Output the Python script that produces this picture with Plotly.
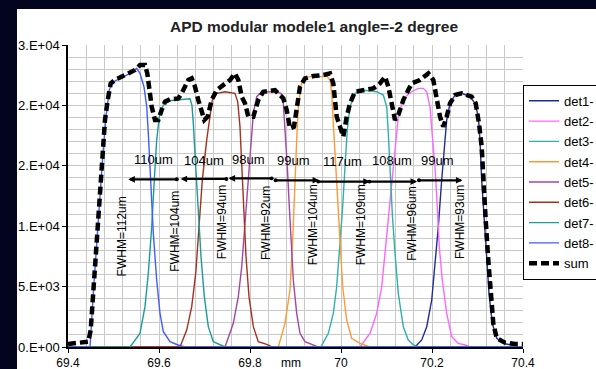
import plotly.graph_objects as go

# ---- detector responses (position in mm, counts) ----
det1_x = [69.400, 70.1626, 70.1774, 70.1884, 70.1994, 70.2066, 70.2139, 70.2213, 70.2271, 70.2323, 70.2396, 70.2506, 70.2653, 70.2835, 70.2945, 70.3018, 70.3055, 70.3092, 70.3150, 70.3202, 70.3253, 70.3325, 70.3422, 70.3567, 70.3752, 70.3890, 70.400]
det1_y = [0, 0, 580, 1680, 3890, 6650, 9960, 13820, 16580, 18790, 20170, 20860, 21000, 20720, 20170, 19070, 17130, 13820, 10510, 7200, 4440, 1960, 720, 300, 165, 0, 0]

det2_x = [69.400, 70.0418, 70.0637, 70.0785, 70.0895, 70.0967, 70.1040, 70.1114, 70.1187, 70.1259, 70.1369, 70.1554, 70.1699, 70.1809, 70.1884, 70.1956, 70.2015, 70.2066, 70.2116, 70.2160, 70.2226, 70.2323, 70.2433, 70.2578, 70.2725, 70.2835, 70.400]
det2_y = [0, 0, 1130, 2790, 4990, 7750, 11060, 13820, 16580, 19070, 20580, 21130, 21410, 21410, 21130, 19890, 17130, 14930, 11620, 8300, 5550, 2790, 860, 300, 165, 0, 0]

det3_x = [69.400, 69.9558, 69.9721, 69.9831, 69.9905, 69.9978, 70.0037, 70.0088, 70.0138, 70.0198, 70.0308, 70.0455, 70.0785, 70.0930, 70.1004, 70.1040, 70.1077, 70.1127, 70.1187, 70.1259, 70.1369, 70.1479, 70.1582, 70.1692, 70.400]
det3_y = [0, 0, 1130, 2790, 4990, 8300, 11620, 14930, 17960, 19890, 21000, 21270, 21130, 20860, 19890, 17690, 14380, 11060, 7750, 4440, 1680, 580, 200, 0, 0]

det4_x = [69.400, 69.8622, 69.8769, 69.8879, 69.8938, 69.8974, 69.9026, 69.9062, 69.9114, 69.9171, 69.9319, 69.9538, 69.9686, 69.9758, 69.9796, 69.9831, 69.9884, 69.9928, 69.9978, 70.0037, 70.0125, 70.0235, 70.0418, 70.0527, 70.0637, 70.400]
det4_y = [0, 0, 1960, 4720, 8860, 13000, 17130, 19890, 21550, 22240, 22380, 22380, 22430, 22100, 21000, 18510, 14930, 11620, 8300, 4990, 2230, 720, 300, 165, 0, 0]

det5_x = [69.400, 69.7451, 69.7633, 69.7743, 69.7818, 69.7890, 69.7963, 69.8022, 69.8073, 69.8147, 69.8257, 69.8549, 69.8681, 69.8732, 69.8769, 69.8820, 69.8864, 69.8916, 69.8952, 69.9026, 69.9099, 69.9209, 69.9391, 69.9495, 70.400]
det5_y = [0, 0, 1960, 4170, 6650, 10240, 13820, 17130, 19340, 20720, 21130, 21130, 21000, 20170, 18240, 14930, 11620, 8300, 5550, 2790, 1130, 440, 165, 0, 0]

det6_x = [69.400, 69.6462, 69.6609, 69.6719, 69.6807, 69.6879, 69.6952, 69.7048, 69.7121, 69.7171, 69.7268, 69.7451, 69.7670, 69.7730, 69.7780, 69.7818, 69.7868, 69.7912, 69.7978, 69.8073, 69.8182, 69.8367, 69.8484, 70.400]
det6_y = [0, 0, 1400, 3340, 6100, 9960, 13820, 17130, 19070, 20440, 21000, 21130, 21000, 20300, 18240, 14930, 11060, 7480, 4170, 1680, 440, 220, 0, 0]

det7_x = [69.400, 69.5363, 69.5582, 69.5692, 69.5765, 69.5840, 69.5897, 69.5949, 69.6007, 69.6095, 69.6204, 69.6462, 69.6681, 69.6725, 69.6754, 69.6807, 69.6864, 69.6923, 69.6996, 69.7084, 69.7193, 69.7341, 69.7451, 70.400]
det7_y = [0, 0, 1130, 3340, 6100, 9960, 13820, 17130, 19070, 20030, 20390, 20480, 20550, 20000, 18510, 14930, 11060, 7480, 4170, 1680, 440, 165, 0, 0]

det8_x = [69.400, 69.4484, 69.4556, 69.4615, 69.4688, 69.4763, 69.4835, 69.4908, 69.4960, 69.5143, 69.5363, 69.5510, 69.5582, 69.5670, 69.5730, 69.5765, 69.5818, 69.5875, 69.5949, 69.6022, 69.6095, 69.6242, 69.6418, 69.6571, 70.400]
det8_y = [0, 0, 4440, 7750, 11600, 15750, 19070, 21270, 21880, 22240, 22650, 23070, 22650, 21550, 19890, 17690, 13820, 9410, 5550, 2790, 1270, 440, 165, 0, 0]

sum_x = [69.4000, 69.4446, 69.4499, 69.4543, 69.4593, 69.4644, 69.4703, 69.4763, 69.4813, 69.4873, 69.4938, 69.5033, 69.5180, 69.5363, 69.5473, 69.5582, 69.5692, 69.5743, 69.5787, 69.5840, 69.5912, 69.5985, 69.6059, 69.6132, 69.6242, 69.6424, 69.6499, 69.6644, 69.6719, 69.6791, 69.6864, 69.6923, 69.6996, 69.7070, 69.7158, 69.7268, 69.7413, 69.7560, 69.7670, 69.7743, 69.7818, 69.7890, 69.7963, 69.8073, 69.8182, 69.8292, 69.8549, 69.8732, 69.8806, 69.8879, 69.8967, 69.9026, 69.9099, 69.9209, 69.9391, 69.9611, 69.9758, 69.9831, 69.9868, 69.9905, 69.9978, 70.0051, 70.0125, 70.0198, 70.0308, 70.0490, 70.0710, 70.0857, 70.0967, 70.1040, 70.1114, 70.1187, 70.1259, 70.1369, 70.1479, 70.1554, 70.1736, 70.1919, 70.2029, 70.2103, 70.2176, 70.2248, 70.2323, 70.2396, 70.2506, 70.2653, 70.2872, 70.2960, 70.3033, 70.3092, 70.3143, 70.3180, 70.3237, 70.3297, 70.3347, 70.3422, 70.3604, 70.3824, 70.4000]
sum_y = [250, 440, 1400, 3890, 7480, 10510, 13270, 16310, 18790, 20440, 21820, 22100, 22380, 22650, 22930, 23340, 23340, 22650, 21270, 19890, 18790, 18790, 19620, 20310, 20500, 20580, 21000, 22100, 22240, 21550, 20440, 19620, 18790, 19070, 20440, 21270, 21690, 22100, 22650, 22100, 20720, 20170, 19070, 19070, 20440, 21130, 21270, 20580, 19620, 18100, 18240, 19620, 21550, 22240, 22430, 22510, 22650, 21820, 20440, 19070, 18240, 17410, 19070, 20170, 21130, 21270, 21410, 21820, 22380, 21550, 20030, 18790, 19200, 20440, 21270, 21820, 22100, 22650, 22100, 20440, 19070, 18240, 19070, 20170, 20860, 21000, 20720, 20170, 18510, 16580, 13820, 10510, 7200, 4440, 1960, 720, 360, 250, 250]

det_names = ["det1-", "det2-", "det3-", "det4-", "det5-", "det6-", "det7-", "det8-"]
sum_name = "sum"

# FWHM of each peak, left to right (um)
fwhm_um = [112, 104, 94, 92, 104, 109, 96, 93]
# spacing between neighbouring peaks, left to right (um)
pitch_um = [110, 104, 98, 99, 117, 108, 99]

y_tickvals = [0, 5000, 10000, 15000, 20000, 25000]
y_ticktext = ["0.E+00", "5.E+03", "1.E+04", "2.E+04", "2.E+04", "3.E+04"]
x_tickvals = [69.4, 69.6, 69.8, 70.0, 70.2, 70.4]
x_ticktext = ["69.4", "69.6", "69.8", "70", "70.2", "70.4"]

# ---- styling ----
FONT = "Arial, Liberation Sans, sans-serif"
det_colors = ["#1f2c98", "#ff66ff", "#2eb1ad", "#ff9933", "#a347a6", "#a5321f", "#1a9c9a", "#3f5cff"]
GRID = "#c9c9c9"
DARK = "#03051e"

det_x = [det1_x, det2_x, det3_x, det4_x, det5_x, det6_x, det7_x, det8_x]
det_y = [det1_y, det2_y, det3_y, det4_y, det5_y, det6_y, det7_y, det8_y]

fig = go.Figure()
for name, xs, ys, col in zip(det_names, det_x, det_y, det_colors):
    fig.add_trace(go.Scatter(x=xs, y=ys, name=name, mode="lines",
                             line=dict(color=col, width=1.4), legendgroup=name))
fig.add_trace(go.Scatter(x=sum_x, y=sum_y, name=sum_name, mode="lines",
                         line=dict(color="black", width=4.5, dash="8px,4px"),
                         legendgroup=sum_name))

annotations = []
# pitch arrows with their labels
arrow_cx = [69.5875, 69.6993, 69.8018, 69.9026, 70.0051, 70.1132, 70.2176]
arrow_y = [13880, 13910, 13960, 13800, 13690, 13690, 13800]
label_y = [15520, 15480, 15540, 15420, 15340, 15400, 15480]
label_dx = [0.0015, -0.0004, -0.0055, -0.0074, -0.0022, -0.0005, -0.0059]
for i, (p, cx, ay, ly, dx) in enumerate(zip(pitch_um, arrow_cx, arrow_y, label_y, label_dx)):
    half = p / 2000.0
    left, right = cx - half, cx + half
    head, tail = (left, right) if i < 3 else (right, left)
    annotations.append(dict(x=head, y=ay, ax=tail, ay=ay, xref="x", yref="y",
                            axref="x", ayref="y", text="", showarrow=True,
                            arrowhead=2, startarrowhead=6, arrowside="end+start",
                            arrowsize=0.6, startarrowsize=0.45, arrowwidth=2.2,
                            arrowcolor="black", standoff=0, startstandoff=0))
    annotations.append(dict(x=cx + dx, y=ly, xref="x", yref="y", text=f"{p}um",
                            showarrow=False, font=dict(family=FONT, size=13, color="black"),
                            xanchor="center", yanchor="middle"))

# vertical FWHM labels
fw_x = [69.518, 69.6352, 69.7378, 69.8367, 69.9391, 70.0446, 70.1554, 70.2615]
fw_y = [9130, 9545, 10306, 10240, 10099, 10099, 10182, 10348]
for v, fx, fy in zip(fwhm_um, fw_x, fw_y):
    annotations.append(dict(x=fx, y=fy, xref="x", yref="y", text=f"FWHM={v}um",
                            showarrow=False, textangle=-90,
                            font=dict(family=FONT, size=12, color="black"),
                            xanchor="center", yanchor="middle"))

# axis title sitting on the tick-label row
annotations.append(dict(x=0.490, y=-0.0235, xref="paper", yref="paper", text="mm",
                        showarrow=False, font=dict(family=FONT, size=12, color="black"),
                        xanchor="center", yanchor="top"))

fig.update_layout(
    width=596, height=369,
    margin=dict(l=68, r=73, t=45, b=22, autoexpand=False),
    paper_bgcolor=DARK, plot_bgcolor="white",
    title=dict(text="<b>APD modular modele1 angle=-2 degree</b>",
               font=dict(family=FONT, size=15.5, color="#222222"),
               x=0.5407, xref="paper", xanchor="center",
               y=1 - 27 / 369, yref="container", yanchor="middle"),
    shapes=[dict(type="rect", xref="paper", yref="paper", x0=-0.1121, x1=1.2,
                 y0=-0.12, y1=1.1192, fillcolor="white", line=dict(width=0),
                 layer="below")],
    annotations=annotations,
    showlegend=True,
    legend=dict(x=1.0, xanchor="left", y=0.868, yanchor="top",
                bgcolor="white", bordercolor="black", borderwidth=1,
                font=dict(family=FONT, size=13, color="black"),
                tracegroupgap=0.4, entrywidth=110, entrywidthmode="pixels"),
    xaxis=dict(range=[69.4, 70.4], tickmode="array", tickvals=x_tickvals,
               ticktext=x_ticktext, ticks="outside", ticklen=4, tickcolor="black",
               showline=True, linecolor="black", linewidth=1.5,
               showgrid=True, gridcolor=GRID, gridwidth=1, zeroline=False,
               minor=dict(tick0=69.4, dtick=0.04, showgrid=True, gridcolor=GRID,
                          gridwidth=1, ticks=""),
               tickfont=dict(family=FONT, size=12, color="black"),
               ticklabelstandoff=0),
    yaxis=dict(range=[0, 25000], tickmode="array", tickvals=y_tickvals,
               ticktext=y_ticktext, ticks="outside", ticklen=4, tickcolor="black",
               showline=True, linecolor="black", linewidth=1.5,
               showgrid=True, gridcolor=GRID, gridwidth=1, zeroline=False,
               minor=dict(tick0=0, dtick=1000, showgrid=True, gridcolor=GRID,
                          gridwidth=1, ticks=""),
               tickfont=dict(family=FONT, size=13, color="black")),
)

fig.write_html("out.html")
